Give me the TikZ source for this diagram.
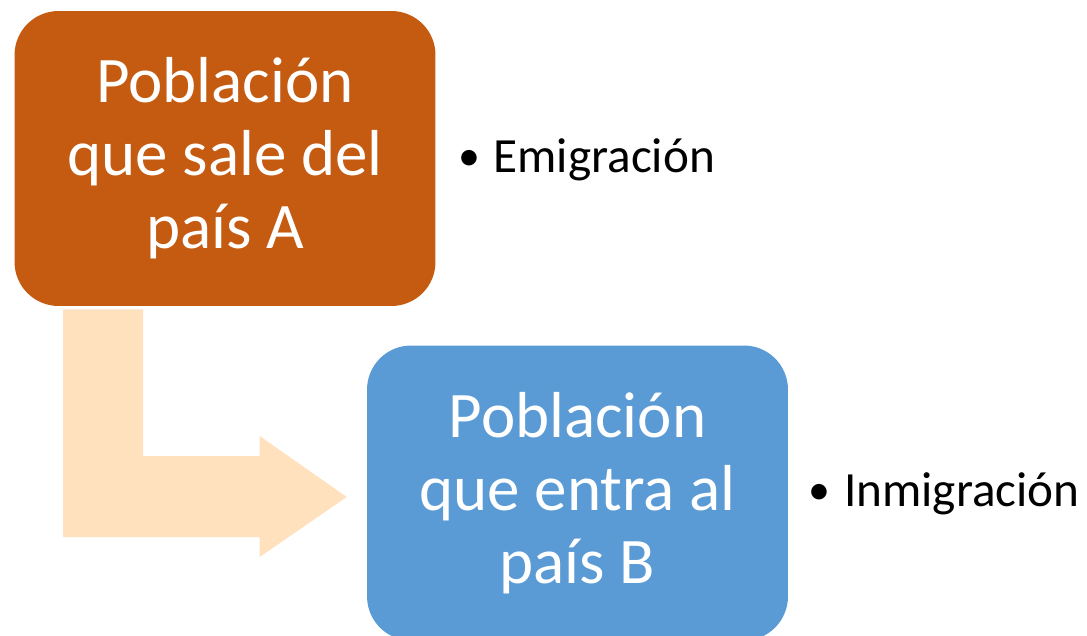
\documentclass[tikz,border=0pt]{standalone}
\usepackage{fontspec}
\setmainfont{Carlito}
\usetikzlibrary{positioning, calc}

\definecolor{salida}{HTML}{C55A11}
\definecolor{entrada}{HTML}{5B9BD5}
\definecolor{flecha}{HTML}{FFE1BE}

\newcommand{\vineta}{\raisebox{1pt}{\fontsize{25}{28}\selectfont•}\hspace{7.7pt}}

\begin{document}
\begin{tikzpicture}[x=0.02cm, y=-0.02cm,
    caja/.style={rectangle, rounded corners=0.88cm, minimum width=8.42cm,
      minimum height=5.9cm, text=white, align=center, inner sep=0pt,
      font=\fontsize{37}{41.5}\selectfont},
    punto/.style={anchor=base west, inner sep=0pt,
      font=\fontsize{28}{32}\selectfont}]
    \useasboundingbox (0,0) rectangle (1087,635);

    \node[caja, fill=salida] (paisA) at (225,158.5) {Población\\que sale del\\país A};
    \node[caja, fill=entrada] (paisB) at (577.5,493) {Población\\que entra al\\país B};

    % flecha doblada de A hacia B
    \coordinate (f0) at ($(paisA.south west)+(49,3)$);
    \coordinate (punta) at ($(paisB.west)+(-20,4)$);
    \fill[flecha] (f0) -- ++(80,0) |- ($(punta)+(-87,-41)$) -- ++(0,-20)
      -- (punta) -- ++(-87,60) -- ++(0,-20) -| (f0) -- cycle;

    \node[punto] (emig) at ($(paisA.east)+(22,13.5)$) {\vineta Emigración};
    \node[punto] (inmig) at ($(paisB.east)+(20,13)$) {\vineta Inmigración};
\end{tikzpicture}
\end{document}
